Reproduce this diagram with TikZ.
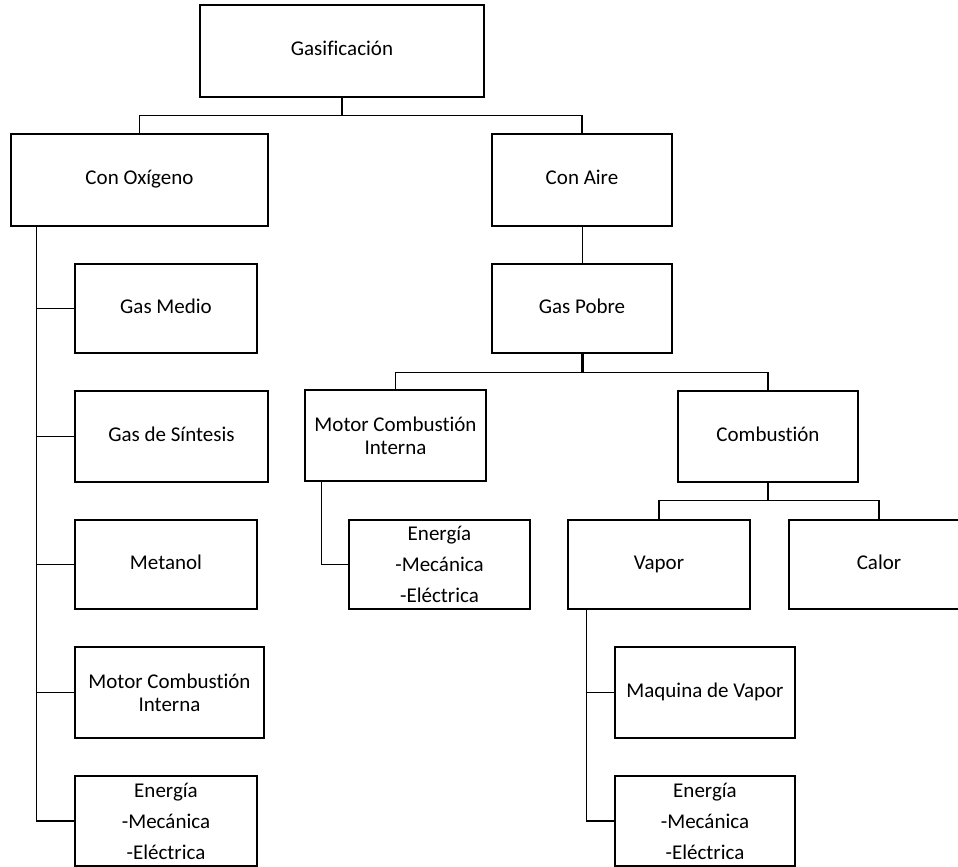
\documentclass[tikz,border=0pt]{standalone}
\usepackage{fontspec}
\setmainfont{Carlito}[Ligatures=CommonOff]
\begin{document}
\begin{tikzpicture}[x=1pt,y=-1pt,
  box/.style={draw, line width=1.5pt, inner sep=0pt, align=center,
    font=\fontsize{21}{23}\selectfont},
  onebox/.style={box, text height=16pt, text depth=7pt},
  listbox/.style={box, font=\fontsize{21}{31}\selectfont},
  link/.style={line width=1.3pt},
  heavylink/.style={line width=3pt}]
\useasboundingbox (0,0) rectangle (958,867);
\fill[white] (0,0) rectangle (958,867);

% top level
\node[onebox, minimum width=284pt, minimum height=92pt] (gas) at (342,51) {Gasificación};
\node[onebox, minimum width=257pt, minimum height=92pt] (oxi) at (139.5,180) {Con Oxígeno};
\node[onebox, minimum width=180pt, minimum height=92pt] (aire) at (582,180) {Con Aire};

% oxygen branch
\node[onebox, minimum width=182pt, minimum height=89pt] (medio) at (166,308.5) {Gas Medio};
\node[onebox, minimum width=193pt, minimum height=91pt] (sintesis) at (171.5,436.5) {Gas de Síntesis};
\node[onebox, minimum width=182pt, minimum height=89pt] (metanol) at (166,564.5) {Metanol};
\node[box, minimum width=189pt, minimum height=91pt] (mci1) at (169.5,692.5) {Motor Combustión\\Interna};
\node[listbox, minimum width=182pt, minimum height=90pt] (ener1) at (166,821) {Energía\\-Mecánica\\-Eléctrica};

% air branch
\node[onebox, minimum width=180pt, minimum height=89pt] (pobre) at (582,308.5) {Gas Pobre};
\node[box, minimum width=181pt, minimum height=91pt] (mci2) at (395.5,435.5) {Motor Combustión\\Interna};
\node[listbox, minimum width=181pt, minimum height=89pt] (ener2) at (439.5,564.5) {Energía\\-Mecánica\\-Eléctrica};
\node[onebox, minimum width=180pt, minimum height=91pt] (comb) at (768,436.5) {Combustión};
\node[onebox, minimum width=182pt, minimum height=89pt] (vapor) at (659,564.5) {Vapor};
\node[onebox, minimum width=180pt, minimum height=89pt] (calor) at (879,564.5) {Calor};
\node[onebox, minimum width=180pt, minimum height=91pt] (maq) at (705,692.5) {Maquina de Vapor};
\node[listbox, minimum width=180pt, minimum height=90pt] (ener3) at (705,821) {Energía\\-Mecánica\\-Eléctrica};

% junction points
\coordinate (gj) at ([yshift=-18pt]gas.south);
\coordinate (pj) at ([yshift=-19pt]pobre.south);
\coordinate (cj) at ([yshift=-18pt]comb.south);
\coordinate (otrunk) at ([xshift=26pt]oxi.south west);
\coordinate (mtrunk) at ([xshift=17pt]mci2.south west);
\coordinate (vtrunk) at ([xshift=19pt]vapor.south west);

% connectors
\draw[link] (gas.south) -- (gj) -| (oxi.north);
\draw[link] (gj) -| (aire.north);
\draw[line width=1pt] (aire.south) -- (pobre.north);

\draw[link] (otrunk) |- (ener1.west);
\draw[link] (otrunk |- medio.west) -- (medio.west);
\draw[link] (otrunk |- sintesis.west) -- (sintesis.west);
\draw[link] (otrunk |- metanol.west) -- (metanol.west);
\draw[link] (otrunk |- mci1.west) -- (mci1.west);

\draw[heavylink] (pobre.south) -- (pj);
\draw[link] (pj) -| (mci2.north);
\draw[link] (pj) -| (comb.north);
\draw[link] (mtrunk) |- (ener2.west);

\draw[link] (comb.south) -- (cj) -| (vapor.north);
\draw[link] (cj) -| (calor.north);
\draw[link] (vtrunk) |- (ener3.west);
\draw[link] (vtrunk |- maq.west) -- (maq.west);
\end{tikzpicture}
\end{document}
